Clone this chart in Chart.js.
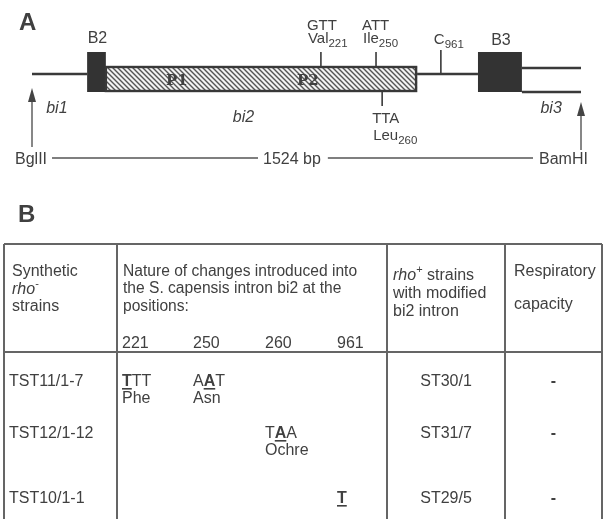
<!DOCTYPE html>
<html>
<head>
<meta charset="utf-8">
<script src="https://cdn.jsdelivr.net/npm/chart.js@4.4.1/dist/chart.umd.min.js"></script>
<style>
  html, body { margin: 0; padding: 0; background: #ffffff; }
  canvas { display: block; }
</style>
</head>
<body>
<canvas id="fig" width="609" height="519"></canvas>
<script>
// ---------- Panel A: map of the BglII–BamHI fragment (bp from the BglII site) ----------
const fragmentLength = 1524;
const fragmentLabel = '1524 bp';
const restrictionNames = ['BglII', 'BamHI'];
const restrictionBp = [0, 1524];
const exonNames = ['B2', 'B3'];
const exonStartBp = [153, 1238];
const exonEndBp = [205, 1360];
const orfStartBp = 205;
const orfEndBp = 1069;
const domainNames = ['P1', 'P2'];
const domainBp = [402, 766];
const intronNames = ['bi1', 'bi2', 'bi3'];
const intronLabelBp = [69, 587, 1441];
const siteCodons = ['GTT', 'ATT', 'TTA', ''];
const siteResidues = ['Val', 'Ile', 'Leu', 'C'];
const siteNumbers = ['221', '250', '260', '961'];
const siteBp = [802, 955, 972, 1135];
const siteBelow = [false, false, true, false];

// ---------- Panel B: table of constructed strains ----------
const positionLabels = ['221', '250', '260', '961'];
const strainNames = ['TST11/1-7', 'TST12/1-12', 'TST10/1-1'];
const codonChanges = [
  [{ pos: 0, codon: 'TTT', changed: 0, product: 'Phe' }, { pos: 1, codon: 'AAT', changed: 1, product: 'Asn' }],
  [{ pos: 2, codon: 'TAA', changed: 1, product: 'Ochre' }],
  [{ pos: 3, codon: 'T', changed: 0, product: '' }]
];
const rhoPlusStrains = ['ST30/1', 'ST31/7', 'ST29/5'];
const respiratoryCapacity = ['-', '-', '-'];

// ---------- layout (canvas units) ----------
const W = 609, H = 519;
const mapLeft = 32, mapRight = 581;            // where 0 bp and the fragment end sit
const bpPerPx = fragmentLength / (mapRight - mapLeft);
const A = {
  exonTop: 52, exonBottom: 92, exonLabel: 43,
  orfTop: 66, orfBottom: 92, backbone: 74, bi3Upper: 68, bi3Lower: 92,
  tickTop: 52, tickTopOutside: 50, tickBottom: 106,
  codonLine: 30, residueLine: 43, belowCodonLine: 123, belowResidueLine: 140,
  arrowTip: [88, 102], arrowEnd: [147, 150],
  intronLabelY: [113, 122, 113],
  scaleLine: 158, scaleText: 164
};
const B = {
  colX: [4, 117, 387, 505, 602], top: 244, headerBottom: 352, bottom: 519,
  posX: [122, 193, 265, 337], posLine: 348,
  rowY: [386, 438, 503], productGap: 17
};

const FAM = '"Liberation Sans", Arial, Helvetica, sans-serif';
const INK = '#404040';
const f = (size, style) => (style ? style + ' ' : '') + size + 'px ' + FAM;

function seg(points, width, color) {
  return { data: points, showLine: true, borderColor: color || '#3a3a3a', borderWidth: width || 2.4,
           pointRadius: 0, clip: false, tension: 0, borderCapStyle: 'butt' };
}

const datasets = [];
// backbone and intron bi3 lines
datasets.push(seg([{ x: restrictionBp[0], y: A.backbone }, { x: exonStartBp[0], y: A.backbone }]));
datasets.push(seg([{ x: orfEndBp, y: A.backbone }, { x: exonStartBp[1], y: A.backbone }]));
datasets.push(seg([{ x: exonEndBp[1], y: A.bi3Upper }, { x: restrictionBp[1], y: A.bi3Upper }]));
datasets.push(seg([{ x: exonEndBp[1], y: A.bi3Lower }, { x: restrictionBp[1], y: A.bi3Lower }]));
// mutation site ticks
siteBp.forEach((bp, i) => {
  const inOrf = bp <= orfEndBp;
  if (siteBelow[i]) {
    datasets.push(seg([{ x: bp, y: A.orfBottom }, { x: bp, y: A.tickBottom }], 1.6));
  } else {
    datasets.push(seg([{ x: bp, y: inOrf ? A.tickTop : A.tickTopOutside },
                       { x: bp, y: inOrf ? A.orfTop : A.backbone }], 1.6));
  }
});
// restriction site arrow shafts
restrictionBp.forEach((bp, i) => {
  datasets.push(seg([{ x: bp, y: A.arrowTip[i] + 10 }, { x: bp, y: A.arrowEnd[i] }], 1.4, '#555'));
});

function hatchPattern(ctx) {
  const t = document.createElement('canvas');
  t.width = 5; t.height = 5;
  const c = t.getContext('2d');
  c.fillStyle = '#f4f4f4'; c.fillRect(0, 0, 5, 5);
  c.strokeStyle = '#555'; c.lineWidth = 1.4;
  c.beginPath();
  c.moveTo(-1, -1); c.lineTo(6, 6);
  c.moveTo(-1, 4); c.lineTo(1, 6);
  c.moveTo(4, -1); c.lineTo(6, 1);
  c.stroke();
  return ctx.createPattern(t, 'repeat');
}

function runs(ctx, x, y, parts, align) {
  let w = 0;
  parts.forEach(p => { ctx.font = p.font; p.w = ctx.measureText(p.t).width; w += p.w; });
  let cx = align === 'center' ? x - w / 2 : x;
  parts.forEach(p => {
    ctx.font = p.font;
    ctx.fillText(p.t, cx, y + (p.dy || 0));
    if (p.underline) ctx.fillRect(cx, y + 2, p.w, 1.6);
    cx += p.w;
  });
  return w;
}

const figurePlugin = {
  id: 'figure',
  beforeDatasetsDraw(chart) {
    const ctx = chart.ctx, x = chart.scales.x, y = chart.scales.y;
    ctx.save();
    // exons B2 / B3
    ctx.fillStyle = '#333';
    exonStartBp.forEach((s, i) => {
      const l = x.getPixelForValue(s), r = x.getPixelForValue(exonEndBp[i]);
      const t = y.getPixelForValue(A.exonTop), b = y.getPixelForValue(A.exonBottom);
      ctx.fillRect(l, t, r - l, b - t);
    });
    // hatched open reading frame of bi2
    const l = x.getPixelForValue(orfStartBp), r = x.getPixelForValue(orfEndBp);
    const t = y.getPixelForValue(A.orfTop), b = y.getPixelForValue(A.orfBottom);
    ctx.fillStyle = hatchPattern(ctx);
    ctx.fillRect(l, t, r - l, b - t);
    ctx.strokeStyle = '#383838'; ctx.lineWidth = 2.4;
    ctx.strokeRect(l, t + 1, r - l - 1, b - t - 2);
    ctx.restore();
  },
  afterDatasetsDraw(chart) {
    const ctx = chart.ctx, x = chart.scales.x, y = chart.scales.y, lx = chart.scales.lx;
    ctx.save();
    ctx.fillStyle = INK;
    ctx.textBaseline = 'alphabetic';

    // panel letters
    ctx.font = f(24, 'bold');
    ctx.fillText('A', lx.getPixelForValue(19), y.getPixelForValue(30));
    ctx.fillText('B', lx.getPixelForValue(18), y.getPixelForValue(222));

    // exon labels
    ctx.font = f(16); ctx.textAlign = 'center';
    exonNames.forEach((n, i) => {
      const cx = x.getPixelForValue((exonStartBp[i] + exonEndBp[i]) / 2);
      ctx.fillText(n, cx + 1, y.getPixelForValue(A.exonLabel + (i ? 2 : 0)));
    });
    // domain labels inside the ORF
    ctx.font = 'bold 15px "DejaVu Serif", "Liberation Serif", serif';
    ctx.fillStyle = '#404040';
    domainNames.forEach((n, i) => ctx.fillText(n, x.getPixelForValue(domainBp[i]), y.getPixelForValue(85)));
    ctx.fillStyle = INK;
    // intron names
    ctx.font = f(16, 'italic');
    intronNames.forEach((n, i) => ctx.fillText(n, x.getPixelForValue(intronLabelBp[i]), y.getPixelForValue(A.intronLabelY[i])));
    ctx.textAlign = 'left';

    // mutation site labels
    siteBp.forEach((bp, i) => {
      const px = x.getPixelForValue(bp);
      if (siteCodons[i] === '') {
        runs(ctx, px - 7, y.getPixelForValue(A.residueLine + 1),
          [{ t: siteResidues[i], font: f(15) }, { t: siteNumbers[i], font: f(11.5), dy: 4 }]);
        return;
      }
      const below = siteBelow[i];
      const lx0 = px - (below ? 10 : 14);
      ctx.font = f(15);
      ctx.fillText(siteCodons[i], lx0, y.getPixelForValue(below ? A.belowCodonLine : A.codonLine));
      runs(ctx, lx0 + 1, y.getPixelForValue(below ? A.belowResidueLine : A.residueLine),
        [{ t: siteResidues[i], font: f(15) }, { t: siteNumbers[i], font: f(11.5), dy: 4 }]);
    });

    // arrow heads at the restriction sites
    restrictionBp.forEach((bp, i) => {
      const px = x.getPixelForValue(bp), tip = y.getPixelForValue(A.arrowTip[i]);
      ctx.beginPath();
      ctx.moveTo(px, tip); ctx.lineTo(px - 4, tip + 14); ctx.lineTo(px + 4, tip + 14); ctx.closePath();
      ctx.fillStyle = '#444'; ctx.fill();
    });
    ctx.fillStyle = INK;

    // fragment length scale line
    ctx.font = f(16);
    const sy = y.getPixelForValue(A.scaleText), ly = y.getPixelForValue(A.scaleLine);
    const leftX = lx.getPixelForValue(15);
    const wL = ctx.measureText(restrictionNames[0]).width;
    ctx.fillText(restrictionNames[0], leftX, sy);
    const wMid = ctx.measureText(fragmentLabel).width;
    const midX = lx.getPixelForValue(263);
    ctx.fillText(fragmentLabel, midX, sy);
    const rightX = lx.getPixelForValue(539);
    ctx.fillText(restrictionNames[1], rightX, sy);
    ctx.strokeStyle = '#555'; ctx.lineWidth = 1.3;
    ctx.beginPath();
    ctx.moveTo(leftX + wL + 5, ly); ctx.lineTo(midX - 5, ly);
    ctx.moveTo(midX + wMid + 7, ly); ctx.lineTo(rightX - 6, ly);
    ctx.stroke();

    // ---------- table ----------
    const X = v => lx.getPixelForValue(v), Y = v => y.getPixelForValue(v);
    ctx.strokeStyle = '#656565'; ctx.lineWidth = 2;
    ctx.beginPath();
    ctx.moveTo(X(B.colX[0]), Y(B.top)); ctx.lineTo(X(B.colX[4]), Y(B.top));
    ctx.moveTo(X(B.colX[0]), Y(B.headerBottom)); ctx.lineTo(X(B.colX[4]), Y(B.headerBottom));
    B.colX.forEach(cx => { ctx.moveTo(X(cx), Y(B.top)); ctx.lineTo(X(cx), Y(B.bottom)); });
    ctx.stroke();

    const T = f(16), TI = f(16, 'italic'), SUP = f(11);
    // header, column 1
    runs(ctx, X(12), Y(276), [{ t: 'Synthetic', font: T }]);
    runs(ctx, X(12), Y(294), [{ t: 'rho', font: TI }, { t: '-', font: SUP, dy: -7 }]);
    runs(ctx, X(12), Y(311), [{ t: 'strains', font: T }]);
    // header, column 2
    ['Nature of changes introduced into', 'the S. capensis intron bi2 at the', 'positions:']
      .forEach((s, i) => runs(ctx, X(123), Y([276, 293, 311][i]), [{ t: s, font: f(15.6) }]));
    positionLabels.forEach((p, i) => runs(ctx, X(B.posX[i]), Y(B.posLine), [{ t: p, font: T }]));
    // header, column 3
    runs(ctx, X(393), Y(280), [{ t: 'rho', font: TI }, { t: '+', font: SUP, dy: -7 }, { t: ' strains', font: T }]);
    runs(ctx, X(393), Y(298), [{ t: 'with modified', font: T }]);
    runs(ctx, X(393), Y(316), [{ t: 'bi2 intron', font: T }]);
    // header, column 4
    runs(ctx, X(514), Y(276), [{ t: 'Respiratory', font: T }]);
    runs(ctx, X(514), Y(309), [{ t: 'capacity', font: T }]);

    // body rows
    const c3 = (B.colX[2] + B.colX[3]) / 2, c4 = (B.colX[3] + B.colX[4]) / 2;
    strainNames.forEach((s, r) => {
      const by = Y(B.rowY[r]);
      runs(ctx, X(9), by, [{ t: s, font: T }]);
      codonChanges[r].forEach(ch => {
        const parts = ch.codon.split('').map((c, k) => k === ch.changed
          ? { t: c, font: f(16, 'bold'), underline: true } : { t: c, font: T });
        runs(ctx, X(B.posX[ch.pos]), by, parts);
        if (ch.product) runs(ctx, X(B.posX[ch.pos]), by + B.productGap, [{ t: ch.product, font: T }]);
      });
      runs(ctx, X(c3), by, [{ t: rhoPlusStrains[r], font: T }], 'center');
      runs(ctx, X(c4), by, [{ t: respiratoryCapacity[r], font: f(16, 'bold') }], 'center');
    });
    ctx.restore();
  }
};

new Chart(document.getElementById('fig'), {
  type: 'scatter',
  data: { datasets },
  options: {
    responsive: false,
    animation: false,
    events: [],
    layout: { padding: 0 },
    plugins: { legend: { display: false }, tooltip: { enabled: false } },
    scales: {
      x: { type: 'linear', display: false,
           min: -mapLeft * bpPerPx, max: fragmentLength + (W - mapRight) * bpPerPx },
      lx: { type: 'linear', axis: 'x', display: false, min: 0, max: W },
      y: { type: 'linear', display: false, reverse: true, min: 0, max: H }
    }
  },
  plugins: [figurePlugin]
});
</script>
</body>
</html>
